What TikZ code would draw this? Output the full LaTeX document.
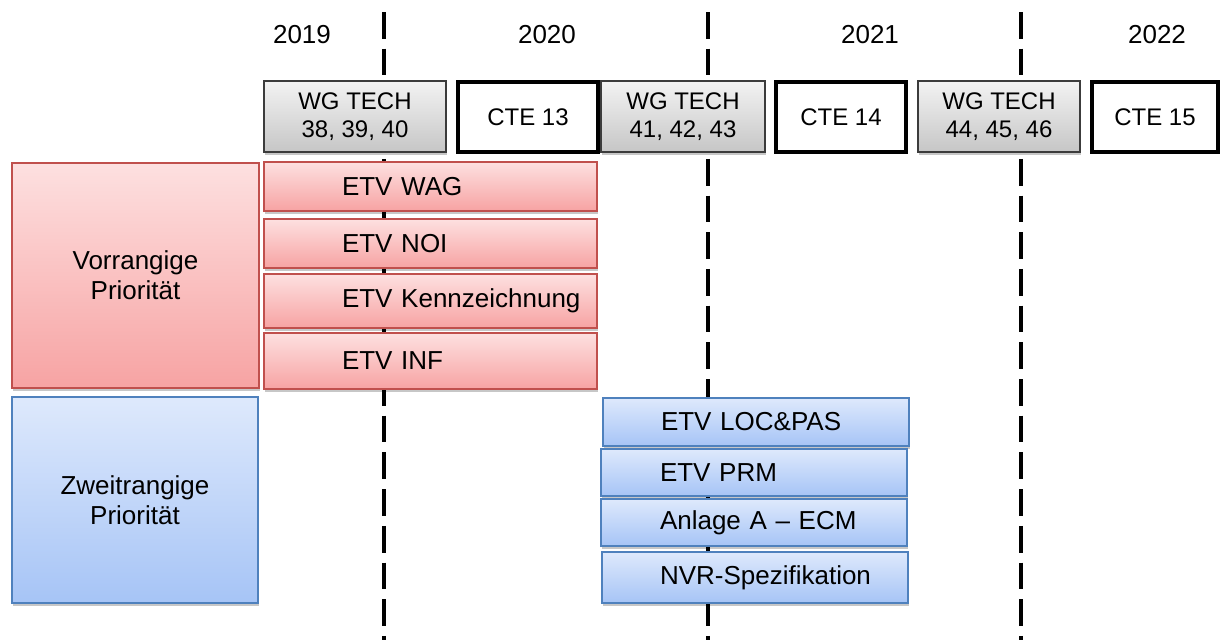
\documentclass[tikz,border=0pt]{standalone}
\usepackage{fontspec}
\setmainfont{Liberation Sans}
\usetikzlibrary{shadows}
\definecolor{wgtop}{RGB}{243,243,243}
\definecolor{wgbot}{RGB}{198,198,198}
\definecolor{wgborder}{RGB}{60,60,60}
\definecolor{redtop}{RGB}{253,224,224}
\definecolor{redbot}{RGB}{247,163,163}
\definecolor{redborder}{RGB}{192,80,77}
\definecolor{bluetop}{RGB}{222,233,252}
\definecolor{bluebot}{RGB}{166,196,246}
\definecolor{blueborder}{RGB}{79,129,189}
\tikzset{
  softshadow/.style={drop shadow={shadow xshift=1pt, shadow yshift=-3pt, opacity=0.22, fill=black}},
  bigfont/.style={font=\fontsize{26}{30}\selectfont},
  smallfont/.style={font=\fontsize{24}{27.5}\selectfont},
  divider/.style={line width=3.5pt, dash pattern=on 26.7pt off 10pt},
  yearlabel/.style={bigfont, inner sep=0pt},
  wgbox/.style={rectangle, draw=wgborder, line width=1.2pt, top color=wgtop, bottom color=wgbot,
    align=center, smallfont, inner sep=0pt, softshadow},
  ctebox/.style={rectangle, draw=black, line width=4pt, fill=white, align=center, smallfont, inner sep=0pt},
  priored/.style={rectangle, draw=redborder, line width=1.3pt, top color=redtop, bottom color=redbot,
    align=center, bigfont, inner sep=0pt, softshadow},
  prioblue/.style={rectangle, draw=blueborder, line width=1.3pt, top color=bluetop, bottom color=bluebot,
    align=center, bigfont, inner sep=0pt, softshadow},
  etvred/.style={rectangle, draw=redborder, line width=1.3pt, top color=redtop, bottom color=redbot,
    align=left, bigfont, inner sep=0pt, text width=333pt, softshadow},
  etvblue/.style={rectangle, draw=blueborder, line width=1.3pt, top color=bluetop, bottom color=bluebot,
    align=left, bigfont, inner sep=0pt, text width=306pt, softshadow},
}
\begin{document}
\begin{tikzpicture}[x=1pt,y=-1pt]
\useasboundingbox[fill=white] (0,0) rectangle (1221,640);

% dashed year dividers
\coordinate (d1t) at (384,12);  \coordinate (d1b) at (384,640);
\coordinate (d2t) at (708,12);  \coordinate (d2b) at (708,640);
\coordinate (d3t) at (1021,12); \coordinate (d3b) at (1021,640);
\draw[divider] (d1t) -- (d1b);
\draw[divider] (d2t) -- (d2b);
\draw[divider] (d3t) -- (d3b);

% years
\node[yearlabel] (y2019) at (302,35) {2019};
\node[yearlabel] (y2020) at (547,35) {2020};
\node[yearlabel] (y2021) at (870,35) {2021};
\node[yearlabel] (y2022) at (1157,35) {2022};

% meetings row
\node[wgbox, minimum width=182pt, minimum height=71pt] (wg1) at (355,116.5) {WG TECH\\38, 39, 40};
\node[ctebox, minimum width=140pt, minimum height=70pt] (cte13) at (528,117) {CTE 13};
\node[wgbox, minimum width=164pt, minimum height=71pt] (wg2) at (683,116.5) {WG TECH\\41, 42, 43};
\node[ctebox, minimum width=130pt, minimum height=70pt] (cte14) at (841,117) {CTE 14};
\node[wgbox, minimum width=162pt, minimum height=71pt] (wg3) at (999,116.5) {WG TECH\\44, 45, 46};
\node[ctebox, minimum width=126pt, minimum height=70pt] (cte15) at (1155,117) {CTE 15};

% priorities
\node[priored, minimum width=247pt, minimum height=225pt] (vor) at (135.5,275.5) {Vorrangige\\Priorität};
\node[prioblue, minimum width=246pt, minimum height=206pt] (zwei) at (135,500) {Zweitrangige\\Priorität};

% red ETV items
\node[etvred, minimum height=49pt] (wag)  at (430.5,186.5) {\hspace*{78pt}ETV WAG};
\node[etvred, minimum height=49pt] (noi)  at (430.5,243.5) {\hspace*{78pt}ETV NOI};
\node[etvred, minimum height=54pt] (kenn) at (430.5,301)   {\hspace*{78pt}ETV Kennzeichnung};
\node[etvred, minimum height=56pt] (inf)  at (430.5,361)   {\hspace*{78pt}ETV INF};

% blue ETV items
\node[etvblue, minimum height=48pt] (loc)    at (756,422)   {\hspace*{58pt}ETV LOC\&PAS};
\node[etvblue, minimum height=47pt] (prm)    at (754,472.5) {\hspace*{59pt}ETV PRM};
\node[etvblue, minimum height=47pt] (anlage) at (754,522.5) {\hspace*{59pt}Anlage A – ECM};
\node[etvblue, minimum height=51pt] (nvr)    at (755,577.5) {\hspace*{58pt}NVR-Spezifikation};
\end{tikzpicture}
\end{document}
